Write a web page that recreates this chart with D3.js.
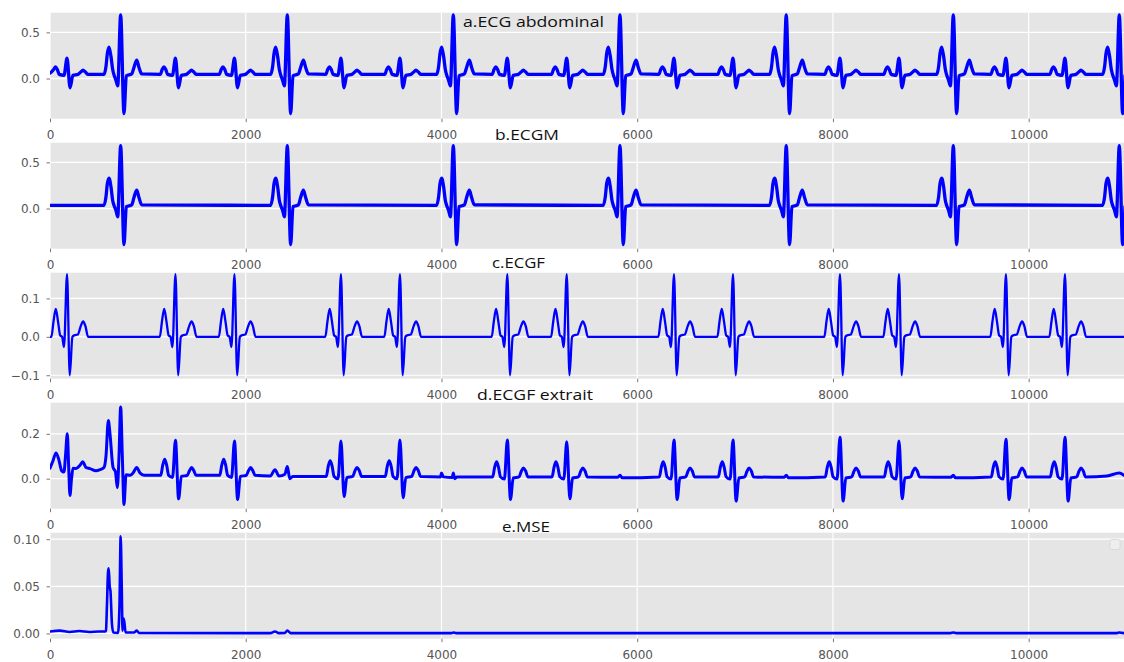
<!DOCTYPE html>
<html><head><meta charset="utf-8">
<script src="https://cdn.jsdelivr.net/npm/d3@7"></script>
<style>body{margin:0;background:#fff;}svg{display:block;}</style>
</head><body>
<svg id="chart" width="1124" height="662"></svg>
<script>
// ---------- data ----------
const xTicks = [0, 2000, 4000, 6000, 8000, 10000];
const titles = ["a.ECG abdominal", "b.ECGM", "c.ECGF", "d.ECGF extrait", "e.MSE"];
const yTicksA = [0, 0.5];
const yTicksB = [0, 0.5];
const yTicksC = [-0.1, 0, 0.1];
const yTicksD = [0, 0.2];
const yTicksE = [0, 0.05, 0.10];

// a. abdominal ECG (sample, value)
const ecgAbdominal = [
[0,0.06],[19,0.075],[39,0.1],[56,0.125],[74,0.1],[94,0.045],[143,0.035],[174,0.22],[205,-0.1],[234,0.035],[286,0.045],[314,0.07],[337,0.09],[362,0.07],[389,0.045],
[552,0.045],[572,0.13],[586,0.27],[603,0.34],[623,0.24],[640,0.1],[657,0.03],[674,-0.02],[692,-0.08],[722,0.69],[756,-0.38],[780,0.03],[835,0.05],[858,0.12],[886,0.2],[909,0.12],[937,0.05],
[1127,0.045],[1147,0.1],[1164,0.125],[1182,0.1],[1202,0.045],[1251,0.035],[1282,0.22],[1313,-0.1],[1342,0.035],[1394,0.045],[1422,0.07],[1445,0.09],[1470,0.07],[1497,0.045],
[1730,0.045],[1750,0.1],[1767,0.125],[1785,0.1],[1805,0.045],[1854,0.035],[1885,0.22],[1916,-0.1],[1945,0.035],[1997,0.045],[2025,0.07],[2048,0.09],[2073,0.07],[2100,0.045],
[2255,0.045],[2275,0.13],[2289,0.27],[2306,0.34],[2326,0.24],[2343,0.1],[2360,0.03],[2377,-0.02],[2395,-0.08],[2425,0.69],[2459,-0.38],[2483,0.03],[2538,0.05],[2561,0.12],[2589,0.2],[2612,0.12],[2640,0.05],
[2818,0.045],[2838,0.1],[2855,0.125],[2873,0.1],[2893,0.045],[2942,0.035],[2973,0.22],[3004,-0.1],[3033,0.035],[3085,0.045],[3113,0.07],[3136,0.09],[3161,0.07],[3188,0.045],
[3421,0.045],[3441,0.1],[3458,0.125],[3476,0.1],[3496,0.045],[3545,0.035],[3576,0.22],[3607,-0.1],[3636,0.035],[3688,0.045],[3716,0.07],[3739,0.09],[3764,0.07],[3791,0.045],
[3951,0.045],[3971,0.13],[3985,0.27],[4002,0.34],[4022,0.24],[4039,0.1],[4056,0.03],[4073,-0.02],[4091,-0.08],[4121,0.69],[4155,-0.38],[4179,0.03],[4234,0.05],[4257,0.12],[4285,0.2],[4308,0.12],[4336,0.05],
[4518,0.045],[4538,0.1],[4555,0.125],[4573,0.1],[4593,0.045],[4642,0.035],[4673,0.22],[4704,-0.1],[4733,0.035],[4785,0.045],[4813,0.07],[4836,0.09],[4861,0.07],[4888,0.045],
[5125,0.045],[5145,0.1],[5162,0.125],[5180,0.1],[5200,0.045],[5249,0.035],[5280,0.22],[5311,-0.1],[5340,0.035],[5392,0.045],[5420,0.07],[5443,0.09],[5468,0.07],[5495,0.045],
[5654,0.045],[5674,0.13],[5688,0.27],[5705,0.34],[5725,0.24],[5742,0.1],[5759,0.03],[5776,-0.02],[5794,-0.08],[5824,0.69],[5858,-0.38],[5882,0.03],[5937,0.05],[5960,0.12],[5988,0.2],[6011,0.12],[6039,0.05],
[6221,0.045],[6241,0.1],[6258,0.125],[6276,0.1],[6296,0.045],[6345,0.035],[6376,0.22],[6407,-0.1],[6436,0.035],[6488,0.045],[6516,0.07],[6539,0.09],[6564,0.07],[6591,0.045],
[6824,0.045],[6844,0.1],[6861,0.125],[6879,0.1],[6899,0.045],[6948,0.035],[6979,0.22],[7010,-0.1],[7039,0.035],[7091,0.045],[7119,0.07],[7142,0.09],[7167,0.07],[7194,0.045],
[7353,0.045],[7373,0.13],[7387,0.27],[7404,0.34],[7424,0.24],[7441,0.1],[7458,0.03],[7475,-0.02],[7493,-0.08],[7523,0.69],[7557,-0.38],[7581,0.03],[7636,0.05],[7659,0.12],[7687,0.2],[7710,0.12],[7738,0.05],
[7917,0.045],[7937,0.1],[7954,0.125],[7972,0.1],[7992,0.045],[8041,0.035],[8072,0.22],[8103,-0.1],[8132,0.035],[8184,0.045],[8212,0.07],[8235,0.09],[8260,0.07],[8287,0.045],
[8520,0.045],[8540,0.1],[8557,0.125],[8575,0.1],[8595,0.045],[8644,0.035],[8675,0.22],[8706,-0.1],[8735,0.035],[8787,0.045],[8815,0.07],[8838,0.09],[8863,0.07],[8890,0.045],
[9060,0.045],[9080,0.13],[9094,0.27],[9111,0.34],[9131,0.24],[9148,0.1],[9165,0.03],[9182,-0.02],[9200,-0.08],[9230,0.69],[9264,-0.38],[9288,0.03],[9343,0.05],[9366,0.12],[9394,0.2],[9417,0.12],[9445,0.05],
[9613,0.045],[9633,0.1],[9650,0.125],[9668,0.1],[9688,0.045],[9737,0.035],[9768,0.22],[9799,-0.1],[9828,0.035],[9880,0.045],[9908,0.07],[9931,0.09],[9956,0.07],[9983,0.045],
[10216,0.045],[10236,0.1],[10253,0.125],[10271,0.1],[10291,0.045],[10340,0.035],[10371,0.22],[10402,-0.1],[10431,0.035],[10483,0.045],[10511,0.07],[10534,0.09],[10559,0.07],[10586,0.045],
[10756,0.045],[10776,0.13],[10790,0.27],[10807,0.34],[10827,0.24],[10844,0.1],[10861,0.03],[10878,-0.02],[10896,-0.08],[10926,0.69],[10960,-0.38],[10984,0.03]
];

// b. maternal ECG
const ecgM = [
[0,0.035],
[552,0.035],[572,0.127],[586,0.27],[603,0.33],[623,0.236],[640,0.09],[657,0.025],[674,-0.02],[692,-0.09],[722,0.68],[756,-0.39],[780,0.02],[835,0.04],[858,0.12],[886,0.2],[909,0.12],[937,0.04],
[2255,0.035],[2275,0.127],[2289,0.27],[2306,0.33],[2326,0.236],[2343,0.09],[2360,0.025],[2377,-0.02],[2395,-0.09],[2425,0.68],[2459,-0.39],[2483,0.02],[2538,0.04],[2561,0.12],[2589,0.2],[2612,0.12],[2640,0.04],
[3951,0.035],[3971,0.127],[3985,0.27],[4002,0.33],[4022,0.236],[4039,0.09],[4056,0.025],[4073,-0.02],[4091,-0.09],[4121,0.68],[4155,-0.39],[4179,0.02],[4234,0.04],[4257,0.12],[4285,0.2],[4308,0.12],[4336,0.04],
[5654,0.035],[5674,0.127],[5688,0.27],[5705,0.33],[5725,0.236],[5742,0.09],[5759,0.025],[5776,-0.02],[5794,-0.09],[5824,0.68],[5858,-0.39],[5882,0.02],[5937,0.04],[5960,0.12],[5988,0.2],[6011,0.12],[6039,0.04],
[7353,0.035],[7373,0.127],[7387,0.27],[7404,0.33],[7424,0.236],[7441,0.09],[7458,0.025],[7475,-0.02],[7493,-0.09],[7523,0.68],[7557,-0.39],[7581,0.02],[7636,0.04],[7659,0.12],[7687,0.2],[7710,0.12],[7738,0.04],
[9060,0.035],[9080,0.127],[9094,0.27],[9111,0.33],[9131,0.236],[9148,0.09],[9165,0.025],[9182,-0.02],[9200,-0.09],[9230,0.68],[9264,-0.39],[9288,0.02],[9343,0.04],[9366,0.12],[9394,0.2],[9417,0.12],[9445,0.04],
[10756,0.035],[10776,0.127],[10790,0.27],[10807,0.33],[10827,0.236],[10844,0.09],[10861,0.025],[10878,-0.02],[10896,-0.09],[10926,0.68],[10960,-0.39],[10984,0.02]
];

// c. fetal ECG (reference)
const ecgF = [
[0,0],[14,0],[36,0.04],[59,0.073],[82,0.04],[104,0.004],[124,0],[143,-0.027],[174,0.163],[202,-0.1],[229,0],[249,0.004],[284,0.006],[314,0.028],[338,0.04],[362,0.028],[389,0],
[1122,0],[1144,0.04],[1167,0.073],[1190,0.04],[1212,0.004],[1232,0],[1251,-0.027],[1282,0.163],[1310,-0.1],[1337,0],[1357,0.004],[1392,0.006],[1422,0.028],[1446,0.04],[1470,0.028],[1497,0],
[1725,0],[1747,0.04],[1770,0.073],[1793,0.04],[1815,0.004],[1835,0],[1854,-0.027],[1885,0.163],[1913,-0.1],[1940,0],[1960,0.004],[1995,0.006],[2025,0.028],[2049,0.04],[2073,0.028],[2100,0],
[2813,0],[2835,0.04],[2858,0.073],[2881,0.04],[2903,0.004],[2923,0],[2942,-0.027],[2973,0.163],[3001,-0.1],[3028,0],[3048,0.004],[3083,0.006],[3113,0.028],[3137,0.04],[3161,0.028],[3188,0],
[3416,0],[3438,0.04],[3461,0.073],[3484,0.04],[3506,0.004],[3526,0],[3545,-0.027],[3576,0.163],[3604,-0.1],[3631,0],[3651,0.004],[3686,0.006],[3716,0.028],[3740,0.04],[3764,0.028],[3791,0],
[4513,0],[4535,0.04],[4558,0.073],[4581,0.04],[4603,0.004],[4623,0],[4642,-0.027],[4673,0.163],[4701,-0.1],[4728,0],[4748,0.004],[4783,0.006],[4813,0.028],[4837,0.04],[4861,0.028],[4888,0],
[5120,0],[5142,0.04],[5165,0.073],[5188,0.04],[5210,0.004],[5230,0],[5249,-0.027],[5280,0.163],[5308,-0.1],[5335,0],[5355,0.004],[5390,0.006],[5420,0.028],[5444,0.04],[5468,0.028],[5495,0],
[6216,0],[6238,0.04],[6261,0.073],[6284,0.04],[6306,0.004],[6326,0],[6345,-0.027],[6376,0.163],[6404,-0.1],[6431,0],[6451,0.004],[6486,0.006],[6516,0.028],[6540,0.04],[6564,0.028],[6591,0],
[6819,0],[6841,0.04],[6864,0.073],[6887,0.04],[6909,0.004],[6929,0],[6948,-0.027],[6979,0.163],[7007,-0.1],[7034,0],[7054,0.004],[7089,0.006],[7119,0.028],[7143,0.04],[7167,0.028],[7194,0],
[7912,0],[7934,0.04],[7957,0.073],[7980,0.04],[8002,0.004],[8022,0],[8041,-0.027],[8072,0.163],[8100,-0.1],[8127,0],[8147,0.004],[8182,0.006],[8212,0.028],[8236,0.04],[8260,0.028],[8287,0],
[8515,0],[8537,0.04],[8560,0.073],[8583,0.04],[8605,0.004],[8625,0],[8644,-0.027],[8675,0.163],[8703,-0.1],[8730,0],[8750,0.004],[8785,0.006],[8815,0.028],[8839,0.04],[8863,0.028],[8890,0],
[9608,0],[9630,0.04],[9653,0.073],[9676,0.04],[9698,0.004],[9718,0],[9737,-0.027],[9768,0.163],[9796,-0.1],[9823,0],[9843,0.004],[9878,0.006],[9908,0.028],[9932,0.04],[9956,0.028],[9983,0],
[10211,0],[10233,0.04],[10256,0.073],[10279,0.04],[10301,0.004],[10321,0],[10340,-0.027],[10371,0.163],[10399,-0.1],[10426,0],[10446,0.004],[10481,0.006],[10511,0.028],[10535,0.04],[10559,0.028],[10586,0],
[10974,0]
];

// d. extracted fetal ECG
const ecgFExtracted = [
[0,0.047],[31,0.08],[61,0.115],[87,0.09],[120,0.035],[143,0.03],[158,0.1],[177,0.2],[191,0.05],[204,-0.075],[220,0.0],[235,0.047],[266,0.045],[307,0.06],[334,0.075],[368,0.05],[409,0.045],[470,0.035],[511,0.04],[552,0.05],[572,0.1],[596,0.26],[613,0.2],[644,0.05],[669,0.03],[688,-0.04],[705,0.1],[722,0.32],[739,0.1],[756,-0.115],[777,0.018],[817,0.015],[848,0.025],[886,0.05],[920,0.025],[961,0.015],
[1132,0.015],[1152,0.06],[1172,0.087],[1192,0.06],[1212,0.015],[1252,0.005],[1282,0.172],[1314,-0.09],[1342,0.01],[1402,0.015],[1425,0.035],[1447,0.05],[1470,0.035],[1492,0.015],
[1735,0.015],[1755,0.06],[1775,0.087],[1795,0.06],[1815,0.015],[1855,0.005],[1885,0.168],[1917,-0.093],[1945,0.01],[2005,0.015],[2028,0.035],[2050,0.05],[2073,0.035],[2095,0.015],
[2250,0.012],[2299,0.04],[2340,0.012],[2400,0.02],[2425,0.054],[2450,0.0],[2480,0.01],
[2823,0.01],[2843,0.055],[2863,0.08],[2883,0.055],[2903,0.01],[2943,0.0],[2973,0.168],[3005,-0.08],[3033,0.005],[3093,0.01],[3116,0.035],[3138,0.05],[3161,0.035],[3183,0.01],
[3426,0.01],[3446,0.055],[3466,0.08],[3486,0.055],[3506,0.01],[3546,0.0],[3576,0.172],[3608,-0.085],[3636,0.005],[3696,0.01],[3719,0.035],[3741,0.05],[3764,0.035],[3786,0.01],
[3990,0.008],[4000,0.025],[4020,0.008],[4110,0.005],[4121,0.025],[4135,0.0],[4160,0.008],
[4523,0.008],[4543,0.05],[4563,0.075],[4583,0.05],[4603,0.008],[4643,-0.002],[4673,0.172],[4705,-0.093],[4733,0.003],[4793,0.008],[4816,0.033],[4838,0.048],[4861,0.033],[4883,0.008],
[5130,0.008],[5150,0.05],[5170,0.075],[5190,0.05],[5210,0.008],[5250,-0.002],[5280,0.165],[5312,-0.09],[5340,0.003],[5400,0.008],[5423,0.033],[5445,0.048],[5468,0.033],[5490,0.008],
[5800,0.006],[5824,0.015],[5845,0.004],
[6226,0.008],[6246,0.05],[6266,0.075],[6286,0.05],[6306,0.008],[6346,-0.002],[6376,0.172],[6408,-0.093],[6436,0.003],[6496,0.008],[6519,0.033],[6541,0.048],[6564,0.033],[6586,0.008],
[6829,0.008],[6849,0.05],[6869,0.075],[6889,0.05],[6909,0.008],[6949,-0.002],[6979,0.172],[7011,-0.1],[7039,0.003],[7099,0.008],[7122,0.033],[7144,0.048],[7167,0.033],[7189,0.008],
[7500,0.006],[7523,0.015],[7545,0.004],
[7922,0.008],[7942,0.05],[7962,0.075],[7982,0.05],[8002,0.008],[8042,-0.002],[8072,0.185],[8104,-0.1],[8132,0.003],[8192,0.008],[8215,0.033],[8237,0.048],[8260,0.033],[8282,0.008],
[8525,0.008],[8545,0.05],[8565,0.075],[8585,0.05],[8605,0.008],[8645,-0.002],[8675,0.168],[8707,-0.09],[8735,0.003],[8795,0.008],[8818,0.033],[8840,0.048],[8863,0.033],[8885,0.008],
[9205,0.006],[9230,0.015],[9250,0.004],
[9618,0.008],[9638,0.05],[9658,0.075],[9678,0.05],[9698,0.008],[9738,-0.002],[9768,0.176],[9800,-0.093],[9828,0.003],[9888,0.008],[9911,0.033],[9933,0.048],[9956,0.033],[9978,0.008],
[10221,0.008],[10241,0.05],[10261,0.075],[10281,0.05],[10301,0.008],[10341,-0.002],[10371,0.185],[10403,-0.1],[10431,0.003],[10491,0.008],[10514,0.033],[10536,0.048],[10559,0.033],[10581,0.008],
[10800,0.012],[10926,0.025],[10974,0.015]
];

// e. mean squared error
const mse = [
[0,0.002],[100,0.003],[200,0.0015],[300,0.0025],[400,0.0015],[500,0.002],[562,0.002],[572,0.003],[582,0.03],[593,0.065],[600,0.069],[610,0.05],[618,0.045],[633,0.01],[647,0.001],[695,0.0005],[710,0.03],[722,0.103],[733,0.05],[741,0.003],[750,0.016],[760,0.012],[772,0.001],[858,0.001],[886,0.003],[910,0.0005],
[2250,0.0003],[2299,0.002],[2340,0.0003],[2400,0.0004],[2425,0.003],[2460,0.0003],[4100,0.0003],[4121,0.001],[4150,0.0003],[9200,0.0003],[9230,0.001],[9260,0.0003],[10900,0.0003],[10926,0.001],[10974,0.0003]
];

// ---------- layout ----------
const W = 1124, H = 662;
const left = 50, right = 1124, panelH = 106;
const tops = [12.7, 142.7, 272.7, 402.7, 532.7];
const panels = [
  {data: ecgAbdominal, dom: [-0.435, 0.713], ticks: yTicksA, fmt: ".1f", sw: 3.3},
  {data: ecgM, dom: [-0.435, 0.713], ticks: yTicksB, fmt: ".1f", sw: 3.3},
  {data: ecgF, dom: [-0.109, 0.167], ticks: yTicksC, fmt: ".1f", sw: 2.3},
  {data: ecgFExtracted, dom: [-0.134, 0.339], ticks: yTicksD, fmt: ".1f", sw: 3},
  {data: mse, dom: [-0.0056, 0.1069], ticks: yTicksE, fmt: ".2f", sw: 2.6}
];
const titlePos = [
  {x: 463, y: 26.7, w: 141},
  {x: 495, y: 140, w: 64},
  {x: 492, y: 268, w: 53},
  {x: 477, y: 400, w: 116},
  {x: 502, y: 531.7, w: 48}
];

const svg = d3.select("#chart");
const x = d3.scaleLinear().domain([0, 10974]).range([left, right]);

panels.forEach((p, i) => {
  const top = tops[i], bottom = top + panelH;
  const y = d3.scaleLinear().domain(p.dom).range([bottom, top]);
  const g = svg.append("g");
  g.append("rect").attr("x", left).attr("y", top).attr("width", right - left).attr("height", panelH).attr("fill", "#E5E5E5");
  g.selectAll(".gx").data(xTicks).enter().append("line")
    .attr("x1", d => x(d)).attr("x2", d => x(d)).attr("y1", top).attr("y2", bottom)
    .attr("stroke", "#fff").attr("stroke-width", 1.2);
  g.selectAll(".gy").data(p.ticks).enter().append("line")
    .attr("x1", left).attr("x2", right).attr("y1", d => y(d)).attr("y2", d => y(d))
    .attr("stroke", "#fff").attr("stroke-width", 1.2);
  const cid = "clip" + i;
  svg.append("clipPath").attr("id", cid).append("rect")
    .attr("x", left).attr("y", top).attr("width", right - left).attr("height", panelH);
  const line = d3.line().x(d => x(d[0])).y(d => y(d[1])).curve(d3.curveMonotoneX);
  g.append("path").datum(p.data).attr("clip-path", `url(#${cid})`)
    .attr("d", line).attr("fill", "none").attr("stroke", "#0000FF")
    .attr("stroke-width", p.sw).attr("stroke-linejoin", "round").attr("stroke-linecap", "round");
  const ax = g.append("g").attr("transform", `translate(0,${bottom})`)
    .call(d3.axisBottom(x).tickValues(xTicks).tickFormat(d3.format("d")).tickSize(3.5).tickPadding(8));
  const ay = g.append("g").attr("transform", `translate(${left},0)`)
    .call(d3.axisLeft(y).tickValues(p.ticks).tickFormat(d3.format(p.fmt)).tickSize(3.5).tickPadding(6.5));
  [ax, ay].forEach(a => {
    a.select(".domain").remove();
    a.selectAll("line").attr("stroke", "#555").attr("stroke-width", 0.8);
    a.selectAll("text").attr("fill", "#555").style("font-family", "DejaVu Sans").style("font-size", "12px");
  });
});

// empty legend frame in last panel
svg.append("rect").attr("x", 1110).attr("y", 539.5).attr("width", 10).attr("height", 10).attr("rx", 2)
  .attr("fill", "#EEEEEE").attr("stroke", "#D5D5D5").attr("stroke-width", 0.8);

// titles
titles.forEach((t, i) => {
  svg.append("text").attr("x", titlePos[i].x).attr("y", titlePos[i].y)
    .attr("textLength", titlePos[i].w).attr("lengthAdjust", "spacingAndGlyphs")
    .style("font-family", "Open Sans").style("font-size", "15px").attr("fill", "#111").text(t);
});
</script>
</body></html>
